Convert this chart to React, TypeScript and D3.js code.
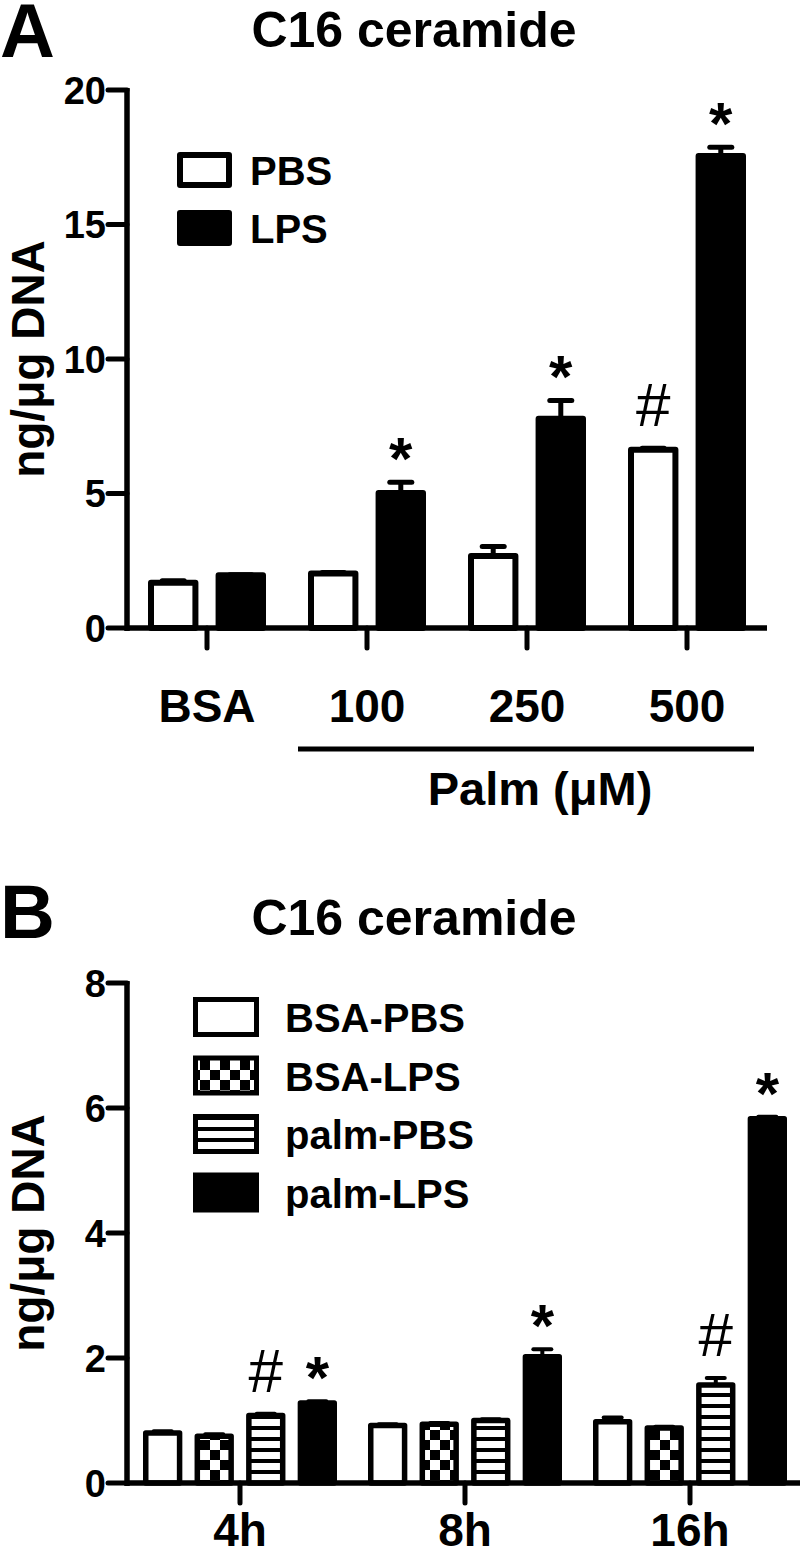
import React from "react";
import * as d3 from "d3";

// ---------- Panel A data ----------
const groupsA = ["BSA", "100", "250", "500"];
const seriesA = ["PBS", "LPS"];
const pbsA = [1.68, 2.03, 2.68, 6.63];
const pbsErrA = [0.08, 0.03, 0.35, 0.05];
const lpsA = [1.96, 5.02, 7.78, 17.55];
const lpsErrA = [0.02, 0.4, 0.68, 0.32];
const marksA = [
  { g: 1, s: 1, t: "*" },
  { g: 2, s: 1, t: "*" },
  { g: 3, s: 0, t: "#" },
  { g: 3, s: 1, t: "*" },
];
const ticksA = [0, 5, 10, 15, 20];

// ---------- Panel B data ----------
const groupsB = ["4h", "8h", "16h"];
const seriesB = ["BSA-PBS", "BSA-LPS", "palm-PBS", "palm-LPS"];
const bsaPbsB = [0.8, 0.92, 0.98];
const bsaLpsB = [0.75, 0.94, 0.88];
const palmPbsB = [1.08, 1.0, 1.57];
const palmLpsB = [1.28, 2.02, 5.83];
const bsaPbsErrB = [0.03, 0.02, 0.07];
const bsaLpsErrB = [0.03, 0.02, 0.02];
const palmPbsErrB = [0.03, 0.02, 0.11];
const palmLpsErrB = [0.03, 0.12, 0.03];
const marksB = [
  { g: 0, s: 2, t: "#" },
  { g: 0, s: 3, t: "*" },
  { g: 1, s: 3, t: "*" },
  { g: 2, s: 2, t: "#" },
  { g: 2, s: 3, t: "*" },
];
const ticksB = [0, 2, 4, 6, 8];

const FONT = "'Liberation Sans', Arial, Helvetica, sans-serif";

export default function App() {
  // ----- scales A -----
  const yA = d3.scaleLinear().domain([0, 20]).range([628, 90]);
  const xA = d3.scaleBand().domain(groupsA).range([127, 767]).padding(0);
  const subA = d3.scaleBand().domain(seriesA).range([-59, 59]).paddingInner(0.254);
  const valsA = [pbsA, lpsA];
  const errsA = [pbsErrA, lpsErrA];
  const swA = 6;

  // ----- scales B -----
  const yB = d3.scaleLinear().domain([0, 8]).range([1483, 983]);
  const xB = d3.scaleBand().domain(groupsB).range([127.5, 802.5]).padding(0);
  const subB = d3.scaleBand().domain(seriesB).range([-97, 97]).paddingInner(0.237);
  const valsB = [bsaPbsB, bsaLpsB, palmPbsB, palmLpsB];
  const errsB = [bsaPbsErrB, bsaLpsErrB, palmPbsErrB, palmLpsErrB];
  const fillsB = ["#fff", "url(#checker)", "url(#stripes)", "#000"];
  const legendFillsB = ["#fff", "url(#checker)", "url(#stripesLegend)", "#000"];
  const swB = 5.5;

  const cA = (g: string) => (xA(g) as number) + xA.bandwidth() / 2;
  const cB = (g: string) => (xB(g) as number) + xB.bandwidth() / 2;

  const mark = (t: string, x: number, yTop: number, key: string) =>
    t === "*" ? (
      <text key={key} x={x} y={yTop - 3} textAnchor="middle" fontFamily={FONT} fontWeight="bold" fontSize={60}>*</text>
    ) : (
      <text key={key} x={x} y={yTop - 22} textAnchor="middle" fontFamily={FONT} fontSize={62}>#</text>
    );

  return (
    <svg width={800} height={1557} style={{ position: "absolute", left: 0, top: 0, background: "#fff" }}>
      <defs>
        <pattern id="checker" patternUnits="userSpaceOnUse" width={20} height={20}>
          <rect x={0} y={0} width={20} height={20} fill="#fff" />
          <rect x={0} y={0} width={10} height={10} fill="#000" />
          <rect x={10} y={10} width={10} height={10} fill="#000" />
        </pattern>
        <pattern id="stripes" patternUnits="userSpaceOnUse" width={20} height={11}>
          <rect x={0} y={0} width={20} height={11} fill="#fff" />
          <rect x={0} y={7} width={20} height={4} fill="#000" />
        </pattern>
        <pattern id="stripesLegend" patternUnits="userSpaceOnUse" x={0} y={9} width={20} height={11}>
          <rect x={0} y={0} width={20} height={11} fill="#fff" />
          <rect x={0} y={7} width={20} height={4} fill="#000" />
        </pattern>
      </defs>
      <rect x={0} y={0} width={800} height={1557} fill="#fff" />

      {/* ================= Panel A ================= */}
      <text x={0} y={57} fontFamily={FONT} fontWeight="bold" fontSize={76}>A</text>
      <text x={414} y={47} textAnchor="middle" fontFamily={FONT} fontWeight="bold" fontSize={50}>C16 ceramide</text>
      <text transform={`translate(44,${(yA(0) + yA(20)) / 2}) rotate(-90)`} textAnchor="middle" fontFamily={FONT} fontWeight="bold" fontSize={46}>ng/μg DNA</text>

      {/* bars A */}
      {groupsA.map((g, gi) =>
        seriesA.map((s, si) => {
          const v = valsA[si][gi];
          const e = errsA[si][gi];
          const x0 = cA(g) + (subA(s) as number);
          const w = subA.bandwidth();
          const cx = x0 + w / 2;
          return (
            <g key={g + s}>
              <line x1={cx} x2={cx} y1={yA(v)} y2={yA(v + e)} stroke="#000" strokeWidth={5} />
              <line x1={cx - 11} x2={cx + 11} y1={yA(v + e)} y2={yA(v + e)} stroke="#000" strokeWidth={5} strokeLinecap="round" />
              <rect x={x0 + swA / 2} y={yA(v)} width={w - swA} height={yA(0) - yA(v)} fill={si === 0 ? "#fff" : "#000"} stroke="#000" strokeWidth={swA} strokeLinejoin="round" />
            </g>
          );
        })
      )}
      {marksA.map((m, i) => {
        const g = groupsA[m.g];
        const s = seriesA[m.s];
        const cx = cA(g) + (subA(s) as number) + subA.bandwidth() / 2;
        const top = yA(valsA[m.s][m.g] + errsA[m.s][m.g]);
        return mark(m.t, cx, top, "ma" + i);
      })}

      {/* axes A */}
      <line x1={127} x2={127} y1={yA(20) - 2} y2={yA(0) + 3} stroke="#000" strokeWidth={5.5} />
      <line x1={127} x2={767} y1={yA(0)} y2={yA(0)} stroke="#000" strokeWidth={5.5} />
      {ticksA.map((t) => (
        <g key={"ta" + t}>
          <line x1={108} x2={127} y1={yA(t)} y2={yA(t)} stroke="#000" strokeWidth={5} strokeLinecap="round" />
          <text x={106} y={yA(t) + 13.5} textAnchor="end" fontFamily={FONT} fontWeight="bold" fontSize={38}>{t}</text>
        </g>
      ))}
      {groupsA.map((g) => (
        <g key={"xa" + g}>
          <line x1={cA(g)} x2={cA(g)} y1={yA(0)} y2={yA(0) + 20} stroke="#000" strokeWidth={5} strokeLinecap="round" />
          <text x={cA(g)} y={722} textAnchor="middle" fontFamily={FONT} fontWeight="bold" fontSize={46}>{g}</text>
        </g>
      ))}
      <line x1={298} x2={754} y1={749} y2={749} stroke="#000" strokeWidth={5} />
      <text x={540} y={805} textAnchor="middle" fontFamily={FONT} fontWeight="bold" fontSize={47}>Palm (μM)</text>

      {/* legend A */}
      {seriesA.map((s, i) => (
        <g key={"la" + s}>
          <rect x={180} y={155 + i * 58} width={49} height={30} fill={i === 0 ? "#fff" : "#000"} stroke="#000" strokeWidth={6} strokeLinejoin="round" />
          <text x={250} y={185 + i * 58} fontFamily={FONT} fontWeight="bold" fontSize={40}>{s}</text>
        </g>
      ))}

      {/* ================= Panel B ================= */}
      <text x={0} y={938} fontFamily={FONT} fontWeight="bold" fontSize={76}>B</text>
      <text x={414} y={935} textAnchor="middle" fontFamily={FONT} fontWeight="bold" fontSize={50}>C16 ceramide</text>
      <text transform={`translate(44,${(yB(0) + yB(8)) / 2}) rotate(-90)`} textAnchor="middle" fontFamily={FONT} fontWeight="bold" fontSize={46}>ng/μg DNA</text>

      {groupsB.map((g, gi) =>
        seriesB.map((s, si) => {
          const v = valsB[si][gi];
          const e = errsB[si][gi];
          const x0 = cB(g) + (subB(s) as number);
          const w = subB.bandwidth();
          const cx = x0 + w / 2;
          return (
            <g key={g + s}>
              <line x1={cx} x2={cx} y1={yB(v)} y2={yB(v + e)} stroke="#000" strokeWidth={4} />
              <line x1={cx - 9} x2={cx + 9} y1={yB(v + e)} y2={yB(v + e)} stroke="#000" strokeWidth={4} strokeLinecap="round" />
              <rect x={x0 + swB / 2} y={yB(v)} width={w - swB} height={yB(0) - yB(v)} fill={fillsB[si]} stroke="#000" strokeWidth={swB} strokeLinejoin="round" />
            </g>
          );
        })
      )}
      {marksB.map((m, i) => {
        const g = groupsB[m.g];
        const s = seriesB[m.s];
        const cx = cB(g) + (subB(s) as number) + subB.bandwidth() / 2;
        const top = yB(valsB[m.s][m.g] + errsB[m.s][m.g]);
        return mark(m.t, cx, top, "mb" + i);
      })}

      <line x1={127} x2={127} y1={yB(8) - 2} y2={yB(0) + 3} stroke="#000" strokeWidth={5.5} />
      <line x1={127} x2={802} y1={yB(0)} y2={yB(0)} stroke="#000" strokeWidth={5.5} />
      {ticksB.map((t) => (
        <g key={"tb" + t}>
          <line x1={108} x2={127} y1={yB(t)} y2={yB(t)} stroke="#000" strokeWidth={5} strokeLinecap="round" />
          <text x={106} y={yB(t) + 13.5} textAnchor="end" fontFamily={FONT} fontWeight="bold" fontSize={38}>{t}</text>
        </g>
      ))}
      {groupsB.map((g) => (
        <g key={"xb" + g}>
          <line x1={cB(g)} x2={cB(g)} y1={yB(0)} y2={yB(0) + 20} stroke="#000" strokeWidth={5} strokeLinecap="round" />
          <text x={cB(g)} y={1546} textAnchor="middle" fontFamily={FONT} fontWeight="bold" fontSize={46}>{g}</text>
        </g>
      ))}

      {/* legend B */}
      {seriesB.map((s, i) => (
        <g key={"lb" + s}>
          <rect x={195.5} y={999.5 + i * 58.5} width={61} height={35} fill={legendFillsB[i]} stroke="#000" strokeWidth={5} />
          <text x={285} y={1032 + i * 58.5} fontFamily={FONT} fontWeight="bold" fontSize={40}>{s}</text>
        </g>
      ))}
    </svg>
  );
}
